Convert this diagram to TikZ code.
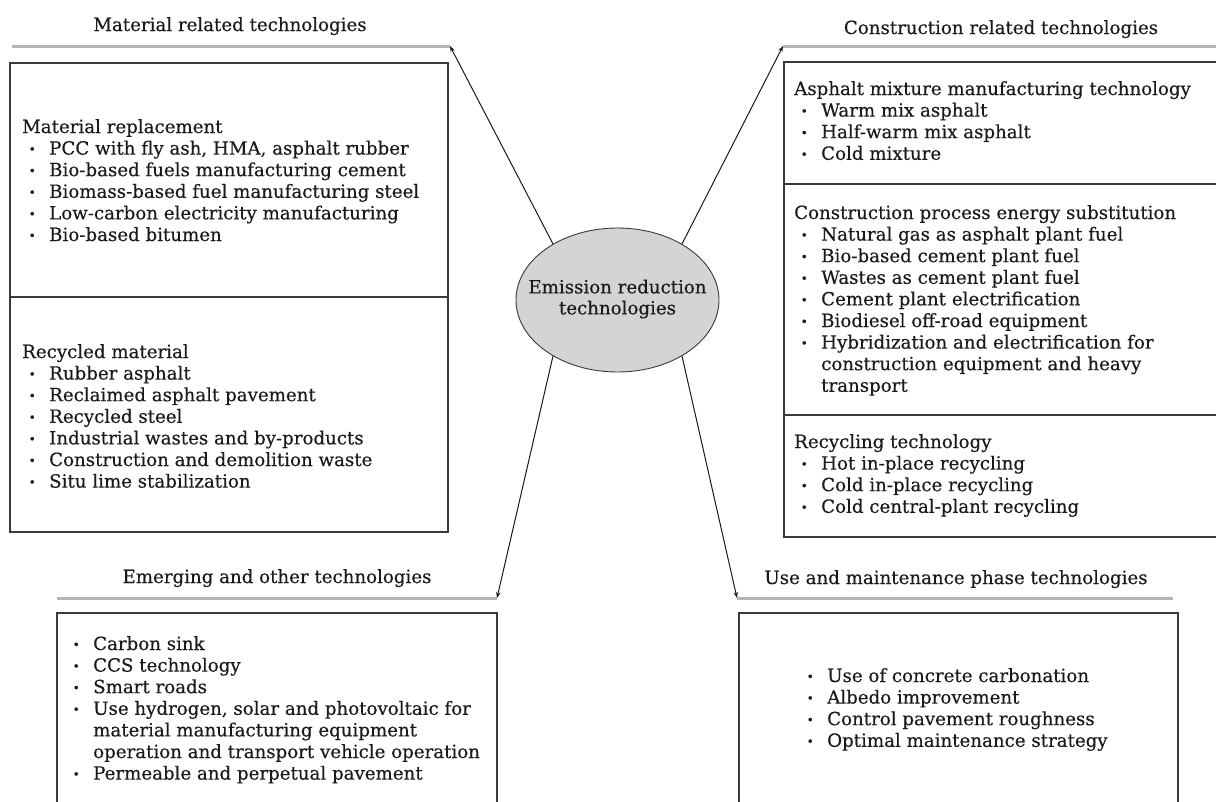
\documentclass[tikz,border=0pt]{standalone}
\usepackage{fontspec}
\setmainfont{DejaVu Serif}[FakeBold=0.35]
\usetikzlibrary{arrows.meta,shapes.geometric}

\definecolor{ink}{HTML}{1A1A1A}
\definecolor{rulegray}{HTML}{B4B4B4}
\definecolor{hubfill}{HTML}{D4D4D4}
\definecolor{framegray}{HTML}{3A3A3A}

% bullet list helpers: one \hbox per printed line, fixed baseline distance
\newcommand{\bul}{\makebox[27pt][l]{\hspace{6.5pt}\raisebox{1.2pt}{\fontsize{12}{12}\selectfont\textbullet}}}
\newcommand{\itm}[1]{\hbox{\bul #1}}
\newcommand{\cont}[1]{\hbox{\hspace{27pt}#1}}
\newcommand{\ttl}[1]{\hbox{#1}}
\newcommand{\stack}[1]{\vtop{\baselineskip=21.6pt\lineskiplimit=-100pt\lineskip=0pt #1}}

\begin{document}
\begin{tikzpicture}[x=1pt,y=-1pt,
  font=\fontsize{18.2}{21.6}\selectfont, text=ink,
  frame/.style={draw=framegray, line width=1.1pt},
  rulebar/.style={draw=rulegray, line width=3pt},
  conn/.style={draw=ink, line width=1pt, -{Stealth[length=6pt,width=4.5pt]}},
  head/.style={anchor=base, inner sep=0pt},
  list/.style={anchor=base west, inner sep=0pt}]

\useasboundingbox (0,0) rectangle (1216,801);

% central hub: the ellipse and its two-line caption
\node[ellipse, draw=framegray, fill=hubfill, line width=0.9pt,
      minimum width=203pt, minimum height=144pt, inner sep=0pt]
      (hub) at (617.5,300) {};
\node[align=center, inner sep=0pt, font=\fontsize{18.2}{21}\selectfont]
      (hubtxt) at (617.5,299) {Emission reduction\\technologies};

% ---- material related technologies (top left)
\node[head] (hmat) at (230,31) {Material related technologies};
\coordinate (rmatL) at (12,46);
\coordinate (rmatR) at (450,46);
\draw[rulebar] (rmatL) -- (rmatR);
\draw[frame] (10,63) rectangle (448,532);
\draw[frame] (10,297) -- (448,297);
\node[list] (mrep) at (22,133) {\stack{%
  \ttl{Material replacement}
  \itm{PCC with fly ash, HMA, asphalt rubber}
  \itm{Bio-based fuels manufacturing cement}
  \itm{Biomass-based fuel manufacturing steel}
  \itm{Low-carbon electricity manufacturing}
  \itm{Bio-based bitumen}}};
\node[list] (mrec) at (22,358) {\stack{%
  \ttl{Recycled material}
  \itm{Rubber asphalt}
  \itm{Reclaimed asphalt pavement}
  \itm{Recycled steel}
  \itm{Industrial wastes and by-products}
  \itm{Construction and demolition waste}
  \itm{Situ lime stabilization}}};

% ---- construction related technologies (top right)
\node[head] (hcon) at (1001,34) {Construction related technologies};
\coordinate (rconL) at (783,46);
\coordinate (rconR) at (1222,46);
\draw[rulebar] (rconL) -- (rconR);
\draw[frame] (784,62) rectangle (1228,537);
\draw[frame] (784,184) -- (1228,184);
\draw[frame] (784,415) -- (1228,415);
\node[list] (casph) at (794,95) {\stack{%
  \ttl{Asphalt mixture manufacturing technology}
  \itm{Warm mix asphalt}
  \itm{Half-warm mix asphalt}
  \itm{Cold mixture}}};
\node[list] (cproc) at (794,219) {\stack{%
  \ttl{Construction process energy substitution}
  \itm{Natural gas as asphalt plant fuel}
  \itm{Bio-based cement plant fuel}
  \itm{Wastes as cement plant fuel}
  \itm{Cement plant electrification}
  \itm{Biodiesel off-road equipment}
  \itm{Hybridization and electrification for}
  \cont{construction equipment and heavy}
  \cont{transport}}};
\node[list] (crec) at (794,448) {\stack{%
  \ttl{Recycling technology}
  \itm{Hot in-place recycling}
  \itm{Cold in-place recycling}
  \itm{Cold central-plant recycling}}};

% ---- emerging and other technologies (bottom left)
\node[head] (hemg) at (277,583) {Emerging and other technologies};
\coordinate (remgL) at (57,598);
\coordinate (remgR) at (497,598);
\draw[rulebar] (remgL) -- (remgR);
\draw[frame] (57,613) rectangle (497,830);
\node[list] (emg) at (66,650) {\stack{%
  \itm{Carbon sink}
  \itm{CCS technology}
  \itm{Smart roads}
  \itm{Use hydrogen, solar and photovoltaic for}
  \cont{material manufacturing equipment}
  \cont{operation and transport vehicle operation}
  \itm{Permeable and perpetual pavement}}};

% ---- use and maintenance phase technologies (bottom right)
\node[head] (huse) at (956,584) {Use and maintenance phase technologies};
\coordinate (ruseL) at (737,598);
\coordinate (ruseR) at (1173,598);
\draw[rulebar] (ruseL) -- (ruseR);
\draw[frame] (739,613) rectangle (1178,830);
\node[list] (use) at (800,682) {\stack{%
  \itm{Use of concrete carbonation}
  \itm{Albedo improvement}
  \itm{Control pavement roughness}
  \itm{Optimal maintenance strategy}}};

% connectors from the hub to the four groups
\draw[conn] (hub.139) -- (rmatR);
\draw[conn] (hub.41)  -- (rconL);
\draw[conn] (hub.221) -- (remgR);
\draw[conn] (hub.319) -- (ruseL);
\end{tikzpicture}
\end{document}
